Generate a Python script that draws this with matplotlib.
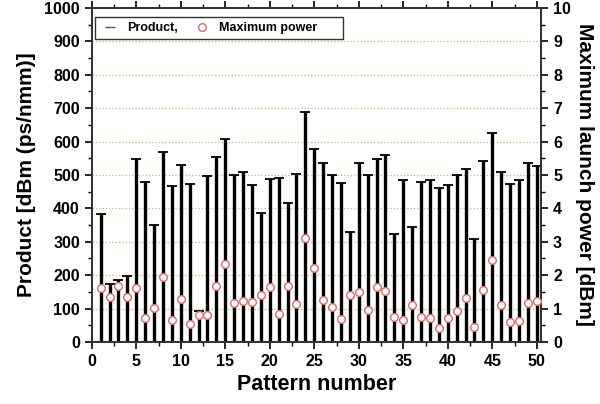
import numpy as np
import matplotlib.pyplot as plt
from matplotlib.lines import Line2D
from matplotlib.ticker import MultipleLocator

plt.rcParams['font.family'] = ['Liberation Sans', 'DejaVu Sans']
plt.rcParams['font.weight'] = 'bold'

# data
pattern = np.arange(1, 51)
product = [383, 173, 187, 197, 547, 478, 350, 568, 466, 530,
           472, 94, 497, 553, 609, 500, 509, 470, 385, 488,
           490, 417, 502, 689, 577, 535, 499, 476, 328, 535,
           499, 547, 559, 323, 485, 345, 480, 485, 460, 470,
           500, 517, 307, 542, 626, 510, 474, 484, 535, 527]
max_power = [1.63, 1.35, 1.67, 1.36, 1.61, 0.73, 1.03, 1.95, 0.65, 1.30,
             0.55, 0.82, 0.80, 1.68, 2.33, 1.16, 1.22, 1.19, 1.41, 1.66,
             0.85, 1.67, 1.15, 3.12, 2.20, 1.27, 1.05, 0.68, 1.41, 1.50,
             0.95, 1.65, 1.53, 0.75, 0.65, 1.12, 0.75, 0.73, 0.42, 0.72,
             0.94, 1.32, 0.45, 1.55, 2.45, 1.10, 0.60, 0.62, 1.18, 1.22]

fig = plt.figure(figsize=(6, 4.04), dpi=100)
ax = fig.add_axes([0.153, 0.1535, 0.749, 0.827])
ax2 = ax.twinx()

lsize = 11.5
msize = 15
red = '#e06868'

# product: drop lines with a cap on top
ax.vlines(pattern, 0, product, color='black', linewidth=2.4, zorder=2)
ax.plot(pattern, product, linestyle='none', marker='_', markersize=7,
        markeredgewidth=1.3, color='black', zorder=3)

# horizontal dotted grid
for g in range(100, 1000, 100):
    ax.axhline(g, color='#bdbd66', linestyle=':', linewidth=0.9, zorder=1)

ax2.plot(pattern, max_power, linestyle='none', marker='o', markersize=5.5,
         markerfacecolor='white', markeredgecolor=red, markeredgewidth=1.0,
         zorder=4)

ax.set_xlim(0, 50.5)
ax.set_ylim(0, 1000)
ax2.set_ylim(0, 10)

ax.xaxis.set_major_locator(MultipleLocator(5))
ax.xaxis.set_minor_locator(MultipleLocator(2.5))
ax.yaxis.set_major_locator(MultipleLocator(100))
ax.yaxis.set_minor_locator(MultipleLocator(50))
ax2.yaxis.set_major_locator(MultipleLocator(1))
ax2.yaxis.set_minor_locator(MultipleLocator(0.5))

ax.tick_params(axis='both', which='major', labelsize=lsize, length=5,
               width=1.2, direction='out')
ax.tick_params(axis='both', which='minor', length=3, width=1.0,
               direction='out')
ax.tick_params(axis='x', top=True, which='both')
ax2.tick_params(axis='y', which='major', labelsize=lsize, length=5,
                width=1.2, direction='out')
ax2.tick_params(axis='y', which='minor', length=3, width=1.0,
                direction='out')

for a in (ax, ax2):
    for s in a.spines.values():
        s.set_linewidth(1.3)
        s.set_color('#333333')

ax.set_xlabel('Pattern number', fontsize=15.5, fontweight='bold', labelpad=4)
ax.set_ylabel('Product [dBm (ps/nmm)]', fontsize=msize, fontweight='bold',
              labelpad=6)
ax2.set_ylabel('Maximum launch power [dBm]', fontsize=msize,
               fontweight='bold', rotation=270, labelpad=17)

handles = [Line2D([], [], linestyle='none', marker='_', markersize=7,
                  markeredgewidth=1.0, color='#555555'),
           Line2D([], [], linestyle='none', marker='o', markersize=5.5,
                  markerfacecolor='white', markeredgecolor=red,
                  markeredgewidth=1.0)]
leg = ax2.legend(handles, ['Product,', 'Maximum power      '], ncol=2,
                 loc='upper left', bbox_to_anchor=(0.008, 0.972),
                 fontsize=9, frameon=True, fancybox=False, borderpad=0.4,
                 handletextpad=0.6, columnspacing=1.2, handlelength=1.5,
                 borderaxespad=0)
leg.get_frame().set_edgecolor('black')
leg.get_frame().set_linewidth(1.0)

fig.savefig('out.png', dpi=100)
